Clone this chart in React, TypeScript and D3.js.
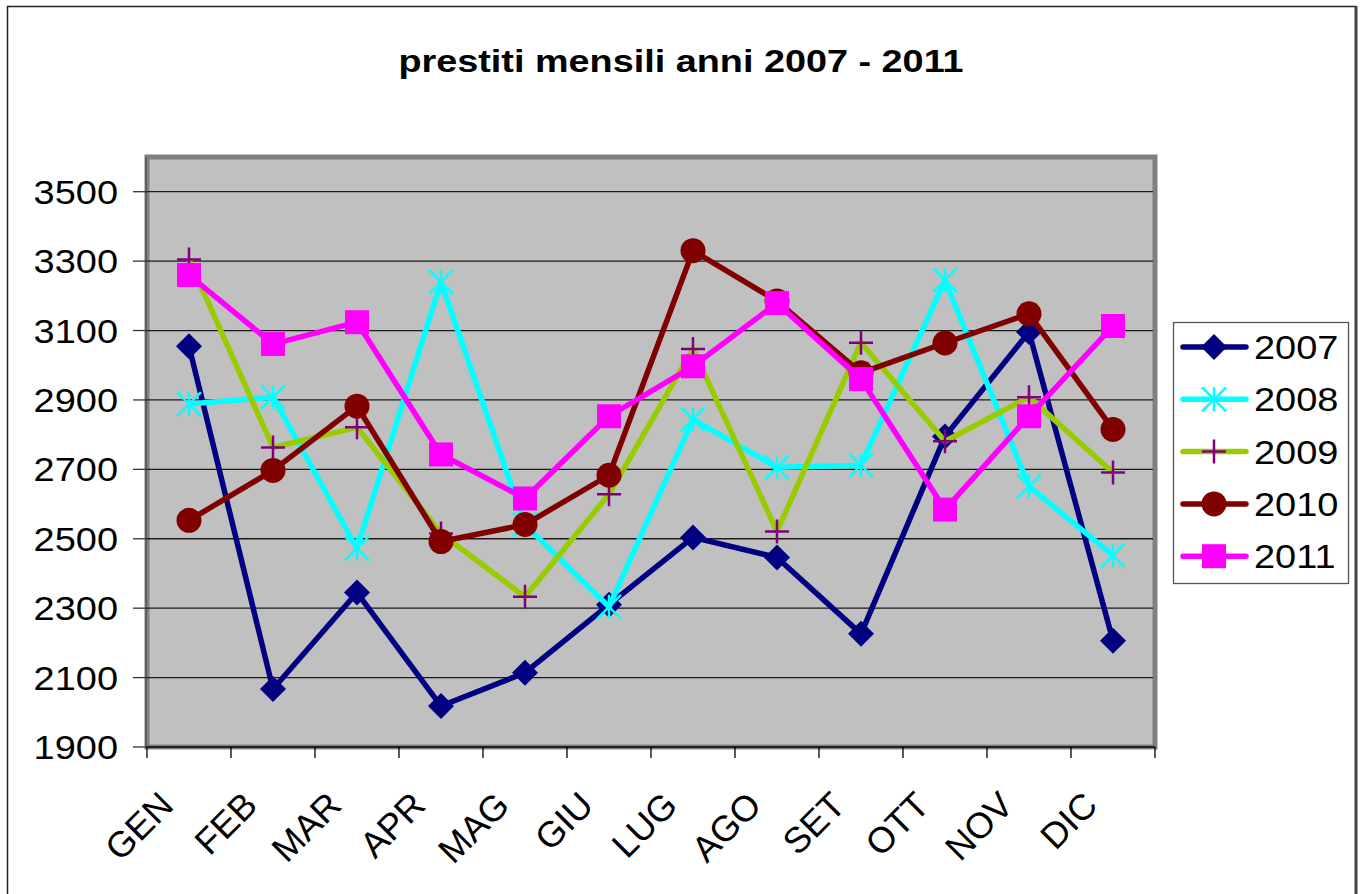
import React, { useEffect, useRef } from 'react'
import * as d3 from 'd3'

const months = ['GEN', 'FEB', 'MAR', 'APR', 'MAG', 'GIU', 'LUG', 'AGO', 'SET', 'OTT', 'NOV', 'DIC']
const yTicks = [1900, 2100, 2300, 2500, 2700, 2900, 3100, 3300, 3500]

const years = ['2007', '2008', '2009', '2010', '2011']
const v2007 = [3055, 2067, 2345, 2018, 2114, 2310, 2504, 2446, 2226, 2795, 3096, 2206]
const v2008 = [2888, 2908, 2472, 3240, 2540, 2304, 2844, 2706, 2712, 3245, 2651, 2452]
const v2009 = [3305, 2763, 2821, 2515, 2333, 2628, 3047, 2521, 3065, 2781, 2908, 2691]
const v2010 = [2553, 2697, 2882, 2492, 2541, 2683, 3330, 3185, 2978, 3064, 3148, 2815]
const v2011 = [3260, 3061, 3124, 2743, 2616, 2853, 2997, 3179, 2960, 2584, 2853, 3113]

const seriesValues = [v2007, v2008, v2009, v2010, v2011]
const lineColors = ['#000080', '#00ffff', '#99cc00', '#800000', '#ff00ff']
const markerKinds = ['diamond', 'asterisk', 'plus', 'circle', 'square']

const W = 1362
const H = 894
const plot = { left: 147, right: 1155, top: 157, bottom: 747 }
const font = '"Liberation Sans", Arial, sans-serif'

function drawMarker(g: any, kind: string, x: number, y: number, color: string) {
  if (kind === 'diamond') {
    g.append('path')
      .attr('d', `M${x},${y - 13}L${x + 13},${y}L${x},${y + 13}L${x - 13},${y}Z`)
      .attr('fill', '#000080')
  } else if (kind === 'square') {
    g.append('rect')
      .attr('x', x - 12).attr('y', y - 12)
      .attr('width', 24).attr('height', 24)
      .attr('fill', '#ff00ff')
  } else if (kind === 'circle') {
    g.append('circle')
      .attr('cx', x).attr('cy', y).attr('r', 12.5)
      .attr('fill', '#800000')
  } else if (kind === 'plus') {
    g.append('path')
      .attr('d', `M${x - 12},${y}H${x + 12}M${x},${y - 12}V${y + 12}`)
      .attr('stroke', '#800080').attr('stroke-width', 2.5).attr('fill', 'none')
  } else if (kind === 'asterisk') {
    const r = 12
    g.append('path')
      .attr('d', `M${x - r},${y - r}L${x + r},${y + r}M${x - r},${y + r}L${x + r},${y - r}M${x},${y - r}V${y + r}`)
      .attr('stroke', color).attr('stroke-width', 2.5).attr('fill', 'none')
  }
}

// text a bit wider than the font, like the original export
function wideText(g: any, x: number, y: number, txt: string, size: number, anchor = 'start', stretch = 1.15) {
  return g.append('text')
    .attr('transform', `translate(${x},${y}) scale(${stretch},1)`)
    .attr('text-anchor', anchor)
    .style('font-family', font).style('font-size', `${size}px`)
    .text(txt)
}

export default function App() {
  const ref = useRef<SVGSVGElement>(null)

  useEffect(() => {
    const svg = d3.select(ref.current)
    svg.selectAll('*').remove()

    svg.append('rect').attr('width', W).attr('height', H).attr('fill', '#fff')
    // chart border
    svg.append('path')
      .attr('d', `M7.5,${H}V6.5H1356V${H}`)
      .attr('fill', 'none').attr('stroke', '#222').attr('stroke-width', 1.5)
    svg.append('line')
      .attr('x1', 1356).attr('x2', 1356).attr('y1', 6).attr('y2', H)
      .attr('stroke', '#444').attr('stroke-width', 3)

    svg.append('text')
      .attr('transform', `translate(681,72) scale(1.22,1)`)
      .attr('text-anchor', 'middle')
      .style('font-family', font).style('font-weight', 'bold').style('font-size', '31px')
      .text('prestiti mensili anni 2007 - 2011')

    const x = d3.scaleBand().domain(months).range([plot.left, plot.right])
    const y = d3.scaleLinear().domain([1900, 3600]).range([plot.bottom, plot.top])

    // plot area with shadow frame
    svg.append('rect')
      .attr('x', plot.left - 1).attr('y', plot.top - 1)
      .attr('width', plot.right - plot.left + 3).attr('height', plot.bottom - plot.top + 3)
      .attr('fill', '#e0e0e0')
    svg.append('rect')
      .attr('x', plot.left).attr('y', plot.top)
      .attr('width', plot.right - plot.left).attr('height', plot.bottom - plot.top)
      .attr('fill', '#c0c0c0').attr('stroke', '#808080').attr('stroke-width', 5)

    const grid = svg.append('g')
    yTicks.slice(1).forEach(t => {
      grid.append('line')
        .attr('x1', plot.left).attr('x2', plot.right - 2)
        .attr('y1', y(t)).attr('y2', y(t))
        .attr('stroke', '#1a1a1a').attr('stroke-width', 1.3)
    })

    // y axis
    svg.append('line')
      .attr('x1', plot.left - 1).attr('x2', plot.left - 1)
      .attr('y1', plot.top).attr('y2', plot.bottom)
      .attr('stroke', '#555').attr('stroke-width', 1.5)
    yTicks.forEach(t => {
      svg.append('line')
        .attr('x1', plot.left - 14).attr('x2', plot.left)
        .attr('y1', y(t)).attr('y2', y(t))
        .attr('stroke', '#333').attr('stroke-width', 1.3)
      wideText(svg, 118, y(t) + 12, String(t), 33, 'end')
    })

    // x axis
    svg.append('line')
      .attr('x1', plot.left).attr('x2', plot.right)
      .attr('y1', plot.bottom).attr('y2', plot.bottom)
      .attr('stroke', '#000').attr('stroke-width', 1.5)
    d3.range(months.length + 1).forEach(i => {
      const tx = plot.left + i * x.bandwidth()
      svg.append('line')
        .attr('x1', tx).attr('x2', tx)
        .attr('y1', plot.bottom).attr('y2', plot.bottom + 11)
        .attr('stroke', '#000').attr('stroke-width', 1.3)
    })
    months.forEach(m => {
      const cx = (x(m) as number) + x.bandwidth() / 2
      svg.append('text')
        .attr('transform', `translate(${cx - 32},${plot.bottom + 42}) rotate(-45)`)
        .attr('text-anchor', 'end')
        .attr('dy', '0.72em')
        .style('font-family', font).style('font-size', '36px')
        .text(m)
    })

    // series
    const line = d3.line<number>()
      .x((_, i) => (x(months[i]) as number) + x.bandwidth() / 2)
      .y(d => y(d))
    seriesValues.forEach((vals, s) => {
      const g = svg.append('g')
      g.append('path')
        .datum(vals)
        .attr('d', line)
        .attr('fill', 'none')
        .attr('stroke', lineColors[s])
        .attr('stroke-width', 5.5)
        .attr('stroke-linejoin', 'round')
      vals.forEach((v, i) => {
        drawMarker(g, markerKinds[s], (x(months[i]) as number) + x.bandwidth() / 2, y(v), lineColors[s])
      })
    })

    // legend
    const lg = svg.append('g')
    lg.append('rect')
      .attr('x', 1173.5).attr('y', 322.5).attr('width', 175).attr('height', 261)
      .attr('fill', '#fff').attr('stroke', '#555').attr('stroke-width', 1.3)
    years.forEach((yr, s) => {
      const ly = 347 + s * 52.3
      lg.append('line')
        .attr('x1', 1183).attr('x2', 1246)
        .attr('y1', ly).attr('y2', ly)
        .attr('stroke', lineColors[s]).attr('stroke-width', 5.5)
        .attr('stroke-linecap', 'round')
      drawMarker(lg, markerKinds[s], 1214, ly, lineColors[s])
      wideText(lg, 1254, ly + 12, yr, 33)
    })
  }, [])

  return (
    <div style={{ position: 'absolute', left: 0, top: 0 }}>
      <svg ref={ref} width={W} height={H} style={{ display: 'block' }} />
    </div>
  )
}
